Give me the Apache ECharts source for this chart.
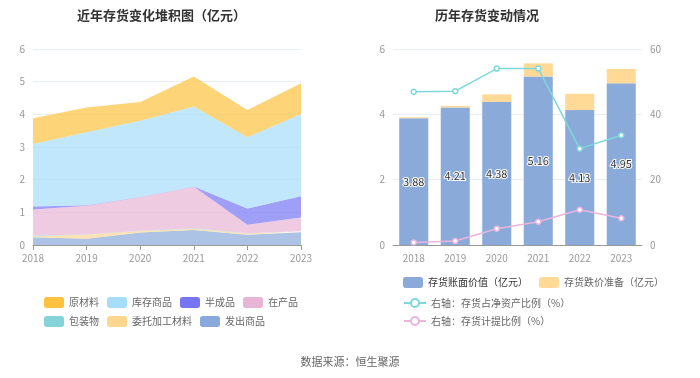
<!DOCTYPE html>
<html><head><meta charset="utf-8">
<script src="https://cdn.jsdelivr.net/npm/echarts@6/dist/echarts.min.js"></script>
<style>html,body{margin:0;padding:0;background:#fff}#c{width:700px;height:378px}</style>
</head><body><div id="c"></div>
<script>
var years = ['2018','2019','2020','2021','2022','2023'];
var rawMaterial = [0.79, 0.76, 0.58, 0.92, 0.83, 0.94];
var stockGoods = [1.91, 2.23, 2.33, 2.45, 2.18, 2.52];
var semiFinished = [0.09, 0.02, 0.01, 0.01, 0.50, 0.65];
var wip = [0.80, 0.88, 1.02, 1.27, 0.26, 0.42];
var packaging = [0.02, 0.01, 0.01, 0.01, 0.01, 0.01];
var consigned = [0.03, 0.12, 0.05, 0.04, 0.04, 0.02];
var shipped = [0.24, 0.19, 0.38, 0.46, 0.31, 0.39];
var bookValue = [3.88, 4.21, 4.38, 5.16, 4.13, 4.95];
var provision = [0.03, 0.05, 0.23, 0.40, 0.50, 0.44];
var netAssetRatio = [46.9, 47.1, 54.0, 54.0, 29.5, 33.6];
var provisionRatio = [0.8, 1.2, 5.0, 7.1, 10.8, 8.2];
var leftTicks = [0,1,2,3,4,5,6];

var font = '"Noto Sans CJK SC","Noto Sans",sans-serif';
var leftNames = ['原材料','库存商品','半成品','在产品','包装物','委托加工材料','发出商品'];
var leftColors = ['#FEC23F','#A6DDFB','#7676F5','#E8B5D6','#86D3DA','#FFD690','#89A9DA'];
var leftData = [rawMaterial, stockGoods, semiFinished, wip, packaging, consigned, shipped];

var series = [];
for (var i = leftNames.length - 1; i >= 0; i--) {
  series.push({
    name: leftNames[i], type: 'line', stack: 'inv', xAxisIndex: 0, yAxisIndex: 0,
    data: leftData[i], symbol: 'none', smooth: false,
    lineStyle: {width: 0}, itemStyle: {color: leftColors[i]},
    areaStyle: {color: leftColors[i], opacity: 0.7}
  });
}
series.push({
  name: '存货账面价值（亿元）', type: 'bar', stack: 'b', xAxisIndex: 1, yAxisIndex: 1,
  data: bookValue, barWidth: '70%', itemStyle: {color: '#8AABDA'},
  label: {show: true, position: 'inside', color: '#333', fontSize: 11, fontFamily: font,
    textBorderColor: '#fff', textBorderWidth: 2, formatter: function(p){return p.value.toFixed(2);}}
});
series.push({
  name: '存货跌价准备（亿元）', type: 'bar', stack: 'b', xAxisIndex: 1, yAxisIndex: 1,
  data: provision, barWidth: '70%', itemStyle: {color: '#FFD995'}
});
series.push({
  name: '右轴：存货占净资产比例（%）', type: 'line', xAxisIndex: 1, yAxisIndex: 2,
  data: netAssetRatio, symbol: 'circle', symbolSize: 5,
  itemStyle: {color: '#fff', borderColor: '#7DD8DA', borderWidth: 1.5},
  lineStyle: {color: '#7DD8DA', width: 1.5}
});
series.push({
  name: '右轴：存货计提比例（%）', type: 'line', xAxisIndex: 1, yAxisIndex: 2,
  data: provisionRatio, symbol: 'circle', symbolSize: 5,
  itemStyle: {color: '#fff', borderColor: '#EAB4DC', borderWidth: 1.5},
  lineStyle: {color: '#EAB4DC', width: 1.5}
});

var axisLabel = {color: '#999', fontSize: 10, fontFamily: font};
var chart = echarts.init(document.getElementById('c'));
chart.setOption({
  animation: false,
  textStyle: {fontFamily: font},
  title: [
    {text: '近年存货变化堆积图（亿元）', left: 72, top: 4, textStyle: {fontSize: 13, fontWeight: 'bold', color: '#333', fontFamily: font}},
    {text: '历年存货变动情况', left: 430, top: 4, textStyle: {fontSize: 13, fontWeight: 'bold', color: '#333', fontFamily: font}},
    {text: '数据来源：恒生聚源', left: 'center', top: 351, textStyle: {fontSize: 11, fontWeight: 'normal', color: '#666', fontFamily: font}}
  ],
  legend: [
    {data: leftNames.map(function(n, i){return {name: n, itemStyle: {color: leftColors[i], opacity: 1}};}),
     left: 39, top: 292, width: 266, itemWidth: 20, itemHeight: 11, itemGap: 8,
     textStyle: {color: '#666', fontSize: 10, fontFamily: font}, icon: 'roundRect'},
    {data: [{name: '存货账面价值（亿元）', textStyle: {color: '#333'}}, '存货跌价准备（亿元）'], left: 398, top: 272, itemWidth: 20, itemHeight: 11, itemGap: 11,
     textStyle: {color: '#666', fontSize: 10, fontFamily: font}, icon: 'roundRect'},
    {data: ['右轴：存货占净资产比例（%）','右轴：存货计提比例（%）'], left: 398, top: 293, orient: 'vertical', itemWidth: 22, itemHeight: 10, itemGap: 8,
     textStyle: {color: '#666', fontSize: 10, fontFamily: font}}
  ],
  grid: [
    {left: 33, top: 49, width: 268, height: 196},
    {left: 393, top: 49, width: 249, height: 196}
  ],
  xAxis: [
    {type: 'category', gridIndex: 0, data: years, boundaryGap: false,
     axisLine: {lineStyle: {color: '#999'}}, axisTick: {show: true, lineStyle: {color: '#999'}}, axisLabel: axisLabel},
    {type: 'category', gridIndex: 1, data: years, boundaryGap: true,
     axisLine: {lineStyle: {color: '#999'}}, axisTick: {show: false}, axisLabel: axisLabel}
  ],
  yAxis: [
    {type: 'value', gridIndex: 0, min: leftTicks[0], max: leftTicks[leftTicks.length-1], interval: 1,
     axisLabel: axisLabel, splitLine: {lineStyle: {color: '#E8EEF6'}}, axisLine: {show: false}, axisTick: {show: false}},
    {type: 'value', gridIndex: 1, min: 0, max: 6, interval: 2,
     axisLabel: axisLabel, splitLine: {lineStyle: {color: '#E8EEF6'}}, axisLine: {show: false}, axisTick: {show: false}},
    {type: 'value', gridIndex: 1, min: 0, max: 60, interval: 20, position: 'right',
     axisLabel: axisLabel, splitLine: {show: false}, axisLine: {show: false}, axisTick: {show: false}}
  ],
  series: series
});
</script></body></html>
